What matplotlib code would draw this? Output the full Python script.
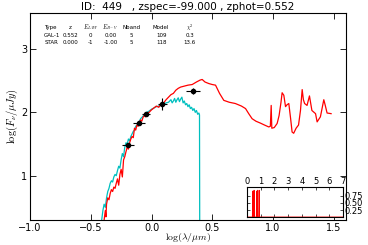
import matplotlib
matplotlib.use("Agg")
import matplotlib.pyplot as plt

plt.rcParams["mathtext.fontset"] = "cm"

# Galaxy best-fit SED (red)
gal_x = [-0.39, -0.38, -0.375, -0.37, -0.36, -0.35, -0.34, -0.33, -0.32, -0.31,
         -0.30, -0.29, -0.28, -0.27, -0.26, -0.25, -0.24, -0.23, -0.22, -0.21,
         -0.20, -0.19, -0.18, -0.17, -0.16, -0.15, -0.14, -0.13, -0.12, -0.11,
         -0.10, -0.09, -0.08, -0.07, -0.06, -0.05, -0.04, -0.03, -0.02, -0.01,
         0.0, 0.02, 0.04, 0.06, 0.08, 0.10, 0.12, 0.14, 0.16, 0.18,
         0.20, 0.22, 0.24, 0.26, 0.30, 0.335, 0.37, 0.40, 0.417, 0.44,
         0.472, 0.50, 0.527, 0.56, 0.595, 0.64, 0.69, 0.74, 0.774, 0.80,
         0.828, 0.86, 0.897, 0.93, 0.965, 0.978, 0.985, 0.99, 1.01, 1.034,
         1.05, 1.065, 1.075, 1.089, 1.103, 1.115, 1.13, 1.145, 1.157, 1.17,
         1.19, 1.21, 1.226, 1.24, 1.25, 1.26, 1.28, 1.30, 1.32, 1.35,
         1.363, 1.39, 1.418, 1.43, 1.445, 1.478]
gal_y = [0.30, 0.45, 0.35, 0.55, 0.65, 0.62, 0.72, 0.78, 0.75, 0.82,
         0.80, 0.88, 0.95, 0.85, 1.02, 1.10, 0.98, 1.25, 1.30, 1.38,
         1.45, 1.42, 1.52, 1.58, 1.62, 1.60, 1.75, 1.72, 1.80, 1.78,
         1.85, 1.88, 1.86, 1.92, 1.95, 1.93, 1.97, 1.99, 2.00, 2.02,
         2.04, 2.07, 2.10, 2.08, 2.14, 2.15, 2.20, 2.24, 2.28, 2.30,
         2.35, 2.38, 2.40, 2.41, 2.43, 2.44, 2.48, 2.51, 2.52, 2.48,
         2.455, 2.44, 2.43, 2.30, 2.19, 2.16, 2.14, 2.10, 2.06, 1.98,
         1.90, 1.86, 1.83, 1.80, 1.77, 1.78, 2.11, 1.75, 1.76, 1.825,
         1.95, 2.15, 2.31, 2.27, 2.09, 2.12, 2.14, 1.90, 1.69, 1.67,
         1.75, 1.80, 2.03, 2.36, 2.20, 2.14, 2.11, 2.26, 2.03, 1.98,
         1.85, 1.93, 2.20, 2.11, 1.99, 1.98]

# Star best-fit SED (cyan)
star_x = [-0.41, -0.40, -0.39, -0.38, -0.37, -0.36, -0.35, -0.34, -0.33, -0.32,
          -0.31, -0.30, -0.29, -0.28, -0.27, -0.26, -0.25, -0.24, -0.23, -0.22,
          -0.21, -0.20, -0.19, -0.18, -0.17, -0.16, -0.15, -0.14, -0.13, -0.12,
          -0.11, -0.10, -0.09, -0.08, -0.06, -0.04, -0.02, 0.0, 0.02, 0.04,
          0.06, 0.08, 0.10, 0.12, 0.14, 0.16, 0.17, 0.18, 0.19, 0.20,
          0.21, 0.22, 0.23, 0.24, 0.25, 0.26, 0.27, 0.28, 0.29, 0.30,
          0.31, 0.32, 0.33, 0.34, 0.35, 0.36, 0.37, 0.38, 0.39, 0.395,
          0.397]
star_y = [0.30, 0.45, 0.55, 0.50, 0.65, 0.75, 0.80, 0.88, 0.92, 0.90,
          0.98, 1.02, 1.00, 1.08, 1.15, 1.12, 1.25, 1.35, 1.30, 1.45,
          1.52, 1.50, 1.58, 1.55, 1.62, 1.66, 1.70, 1.72, 1.78, 1.80,
          1.84, 1.86, 1.90, 1.92, 1.96, 2.00, 2.02, 2.05, 2.07, 2.09,
          2.10, 2.12, 2.13, 2.15, 2.16, 2.20, 2.15, 2.18, 2.22, 2.16,
          2.20, 2.23, 2.17, 2.21, 2.24, 2.15, 2.18, 2.12, 2.14, 2.09,
          2.12, 2.06, 2.08, 2.03, 2.06, 2.00, 2.03, 1.97, 1.99, 1.96,
          0.0]

# Observed photometry
obs_x = [-0.19, -0.10, -0.046, 0.09, 0.343]
obs_y = [1.49, 1.83, 1.97, 2.13, 2.34]
obs_xerr = [0.05, 0.05, 0.03, 0.04, 0.06]
obs_yerr = [0.03, 0.03, 0.03, 0.10, 0.05]

# Photo-z PDF (inset)
pdf_z = [0.0, 0.40, 0.42, 0.44, 0.50, 0.52, 0.54, 0.69, 0.71, 0.73,
         0.74, 0.76, 0.78, 0.87, 0.89, 0.91, 7.0]
pdf_p = [0.0, 0.0, 0.92, 0.0, 0.0, 0.95, 0.0, 0.0, 0.90, 0.0,
         0.0, 0.95, 0.0, 0.0, 0.95, 0.0, 0.0]

title = "ID:  449   , zspec=-99.000 , zphot=0.552"
table_header = ["Type", "z", r"$E_{LAW}$", r"$E_{B-V}$", "Nband", "Model", r"$\chi^2$"]
table_rows = [["GAL-1", "0.552", "0", "0.00", "5", "109", "0.3"],
              ["STAR", "0.000", "-1", "-1.00", "5", "118", "13.6"]]

fig = plt.figure(figsize=(3.68, 2.45), dpi=100)
ax = fig.add_axes([0.0815, 0.102, 0.8585, 0.845])
ax.plot(star_x, star_y, color="#00bfbf", lw=0.9)
ax.plot(gal_x, gal_y, color="red", lw=0.9)
ax.errorbar(obs_x, obs_y, xerr=obs_xerr, yerr=obs_yerr, fmt="o", color="black",
            ms=3, elinewidth=0.8, capsize=0, zorder=5)
ax.set_xlim(-1.0, 1.6)
ax.set_ylim(0.3, 3.57)
ax.set_xticks([-1.0, -0.5, 0.0, 0.5, 1.0, 1.5])
ax.set_yticks([1, 2, 3])
ax.tick_params(direction="in", top=True, right=True, labelsize=7, length=4, width=0.6, pad=2)
for s in ax.spines.values():
    s.set_linewidth(0.8)
ax.set_xlabel(r"$\log(\lambda/\mu m)$", fontsize=7, labelpad=-1)
ax.set_ylabel(r"$\log(F_{\nu}/\mu Jy)$", fontsize=7.5, labelpad=1)
ax.set_title(title, fontsize=7.5, pad=2)

col_x = [0.045, 0.128, 0.192, 0.255, 0.32, 0.415, 0.505]
for i, h in enumerate(table_header):
    ax.text(col_x[i], 0.93, h, transform=ax.transAxes, fontsize=4,
            ha="left" if i == 0 else "center", va="center")
for r, row in enumerate(table_rows):
    for i, v in enumerate(row):
        ax.text(col_x[i], 0.893 - 0.037 * r, v, transform=ax.transAxes, fontsize=4,
                ha="left" if i == 0 else "center", va="center")

ins = fig.add_axes([0.671, 0.114, 0.261, 0.122])
ins.plot(pdf_z, pdf_p, color="red", lw=0.7)
ins.set_xlim(0, 7)
ins.set_ylim(0, 1.06)
ins.set_xticks(range(8))
ins.set_yticks([0.25, 0.50, 0.75])
ins.tick_params(direction="in", top=True, right=True, labeltop=True, labelbottom=False,
                labelright=True, labelleft=False, labelsize=6, length=2, width=0.5, pad=1)
for s in ins.spines.values():
    s.set_linewidth(0.8)

fig.savefig("out.png", dpi=100)
